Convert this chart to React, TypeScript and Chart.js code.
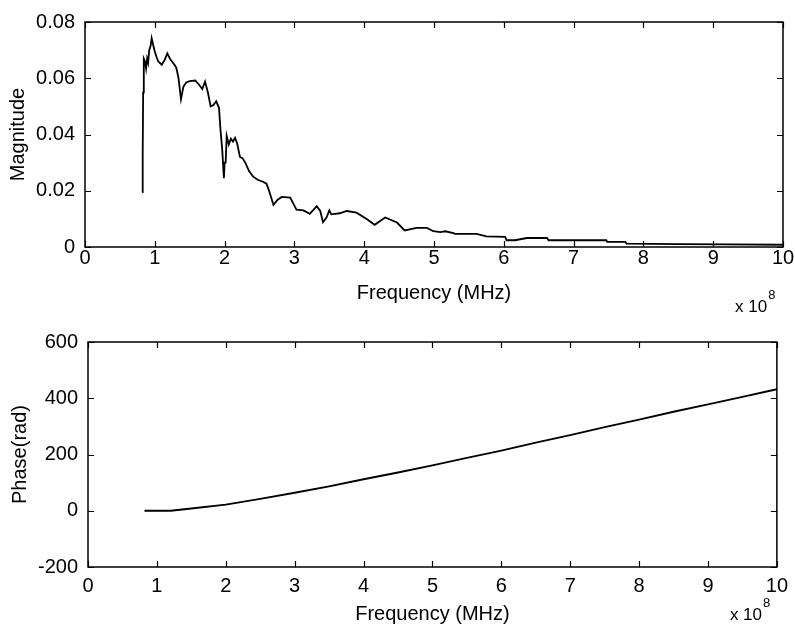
import React, { useEffect, useRef } from "react";
import { Chart, registerables } from "chart.js";

Chart.register(...registerables);

const FONT = "'Liberation Sans', Arial, sans-serif";

// Tick values
const freqTicks = [0, 1, 2, 3, 4, 5, 6, 7, 8, 9, 10];
const magTicks = [0, 0.02, 0.04, 0.06, 0.08];
const phaseTicks = [-200, 0, 200, 400, 600];

// Magnitude spectrum (frequency in units of 10^8)
const magFreq = [
  0.82, 0.823, 0.83, 0.833, 0.84, 0.845, 0.86, 0.875, 0.89, 0.905, 0.92, 0.94, 0.955, 0.975,
  1.0, 1.03, 1.05, 1.1, 1.14, 1.18, 1.22, 1.26, 1.29, 1.31, 1.34, 1.375, 1.41, 1.45, 1.5, 1.58,
  1.64, 1.68, 1.72, 1.76, 1.8, 1.84, 1.88, 1.92, 1.94, 1.965, 1.99, 2.0, 2.015, 2.03,
  2.06, 2.09, 2.12, 2.15, 2.18, 2.22, 2.26, 2.3, 2.35, 2.41, 2.48, 2.55, 2.6, 2.63,
  2.7, 2.76, 2.82, 2.94, 3.03, 3.13, 3.22, 3.32, 3.37, 3.41, 3.46, 3.5, 3.53, 3.65,
  3.75, 3.89, 4.04, 4.15, 4.3, 4.47, 4.58, 4.75, 4.9, 4.99, 5.09, 5.16, 5.28, 5.3,
  5.61, 5.75, 6.02, 6.04, 6.16, 6.33, 6.62, 6.64, 7.47, 7.48, 7.74, 7.76, 8.5, 9.2, 10.0,
];
const magValues = [
  0.0195, 0.032, 0.032, 0.055, 0.055, 0.067, 0.066, 0.0635, 0.067, 0.0655, 0.07, 0.0715, 0.0742, 0.072,
  0.0695, 0.0672, 0.066, 0.0648, 0.0665, 0.0688, 0.0668, 0.0655, 0.0645, 0.0635, 0.06, 0.0525, 0.057, 0.0585, 0.059, 0.0592,
  0.0575, 0.0562, 0.0588, 0.055, 0.05, 0.0505, 0.0518, 0.0495, 0.042, 0.035, 0.0245, 0.03, 0.03, 0.0395,
  0.0365, 0.0385, 0.0375, 0.0388, 0.0368, 0.032, 0.0315, 0.0298, 0.027, 0.025, 0.0238, 0.0232, 0.0225, 0.0205,
  0.015, 0.0168, 0.0178, 0.0176, 0.0133, 0.013, 0.0118, 0.0145, 0.0128, 0.0088, 0.0105, 0.013, 0.0116, 0.012,
  0.0128, 0.0122, 0.0099, 0.0079, 0.0105, 0.0087, 0.0059, 0.0068, 0.0068, 0.0056, 0.0053, 0.0056, 0.0049, 0.0047,
  0.0047, 0.0038, 0.0036, 0.0024, 0.0024, 0.0032, 0.0032, 0.0024, 0.0024, 0.0018, 0.0018, 0.0012, 0.001, 0.0009, 0.0008,
];

// Phase (rad)
const phaseFreq = [0.82, 1.0, 1.2, 1.5, 2.0, 2.5, 3.0, 3.5, 4.0, 4.5, 5.0, 5.5, 6.0, 6.5, 7.0, 7.5, 8.0, 8.5, 9.0, 9.5, 10.0];
const phaseValues = [0, 0, 0, 8, 22, 42, 64, 87, 112, 136, 161, 188, 214, 242, 269, 297, 324, 352, 378, 405, 432];

const framePlugin = {
  id: "frame",
  afterDraw(chart: any, _args: any, o: any) {
    const { ctx, chartArea: a } = chart;
    const sx = chart.scales.x;
    const sy = chart.scales.y;
    ctx.save();
    ctx.strokeStyle = "#000";
    ctx.lineWidth = 1.5;
    ctx.strokeRect(a.left, a.top, a.right - a.left, a.bottom - a.top);
    ctx.lineWidth = 1.2;
    ctx.beginPath();
    const L = 6;
    sx.ticks.forEach((t: any) => {
      const p = Math.round(sx.getPixelForValue(t.value)) + 0.5;
      ctx.moveTo(p, a.bottom);
      ctx.lineTo(p, a.bottom - L);
      ctx.moveTo(p, a.top);
      ctx.lineTo(p, a.top + L);
    });
    sy.ticks.forEach((t: any) => {
      const p = Math.round(sy.getPixelForValue(t.value)) + 0.5;
      ctx.moveTo(a.left, p);
      ctx.lineTo(a.left + L, p);
      ctx.moveTo(a.right, p);
      ctx.lineTo(a.right - L, p);
    });
    ctx.stroke();
    // exponent label
    ctx.fillStyle = "#000";
    ctx.textAlign = "left";
    ctx.textBaseline = "alphabetic";
    ctx.font = `17px ${FONT}`;
    const ex = a.right + o.dx;
    const ey = a.bottom + o.dy;
    ctx.fillText("x 10", ex, ey);
    const w = ctx.measureText("x 10").width;
    ctx.font = `13px ${FONT}`;
    ctx.fillText("8", ex + w + 1, ey - 13);
    ctx.restore();
  },
};

type Cfg = {
  xs: number[];
  ys: number[];
  yMin: number;
  yMax: number;
  yTicks: number[];
  yTitle: string;
  yFmt: (v: number) => string;
  yAxisWidth: number;
  xAxisHeight: number;
  padRight: number;
  xTickPad: number;
  xTitlePad: number;
  yTitlePad: number;
  yTickPad: number;
  expDx: number;
  expDy: number;
};

function makeChart(canvas: HTMLCanvasElement, c: Cfg) {
  return new Chart(canvas, {
    type: "line",
    data: {
      datasets: [
        {
          data: c.xs.map((x, i) => ({ x, y: c.ys[i] })),
          borderColor: "#000",
          borderWidth: 1.8,
          pointRadius: 0,
          tension: 0,
          fill: false,
        },
      ],
    },
    options: {
      animation: false,
      responsive: false,
      maintainAspectRatio: false,
      devicePixelRatio: 1,
      layout: { padding: { left: 0, top: 15, right: c.padRight, bottom: 0 }, autoPadding: false },
      plugins: {
        legend: { display: false },
        tooltip: { enabled: false },
        frame: { dx: c.expDx, dy: c.expDy },
      } as any,
      scales: {
        x: {
          type: "linear",
          min: 0,
          max: 10,
          grid: { display: false, drawTicks: false },
          border: { display: false },
          afterBuildTicks: (s: any) => {
            s.ticks = freqTicks.map((v) => ({ value: v }));
          },
          afterFit: (s: any) => {
            s.height = c.xAxisHeight;
          },
          ticks: {
            color: "#000",
            font: { family: FONT, size: 20, lineHeight: 1.2 },
            padding: c.xTickPad,
            maxRotation: 0,
            autoSkip: false,
            callback: (v: any) => String(v),
          },
          title: {
            display: true,
            text: "Frequency (MHz)",
            color: "#000",
            font: { family: FONT, size: 20, lineHeight: 1.2 },
            padding: { top: 0, bottom: c.xTitlePad },
          },
        },
        y: {
          type: "linear",
          min: c.yMin,
          max: c.yMax,
          grid: { display: false, drawTicks: false },
          border: { display: false },
          afterBuildTicks: (s: any) => {
            s.ticks = c.yTicks.map((v) => ({ value: v }));
          },
          afterFit: (s: any) => {
            s.width = c.yAxisWidth;
          },
          ticks: {
            color: "#000",
            font: { family: FONT, size: 20, lineHeight: 1.2 },
            padding: c.yTickPad,
            autoSkip: false,
            callback: (v: any) => c.yFmt(Number(v)),
          },
          title: {
            display: true,
            text: c.yTitle,
            color: "#000",
            font: { family: FONT, size: 20, lineHeight: 1.2 },
            padding: { top: c.yTitlePad, bottom: 0 },
          },
        },
      },
    } as any,
    plugins: [framePlugin],
  });
}

export default function App() {
  const topRef = useRef<HTMLCanvasElement>(null);
  const botRef = useRef<HTMLCanvasElement>(null);

  useEffect(() => {
    const c1 = makeChart(topRef.current!, {
      xs: magFreq,
      ys: magValues,
      yMin: 0,
      yMax: 0.08,
      yTicks: magTicks,
      yTitle: "Magnitude",
      yFmt: (v) => (v === 0 ? "0" : v.toFixed(2)),
      yAxisWidth: 85,
      xAxisHeight: 73,
      padRight: 12,
      xTickPad: -1,
      xTitlePad: 15,
      yTitlePad: 6,
      yTickPad: 10,
      expDx: -48,
      expDy: 65,
    });
    const c2 = makeChart(botRef.current!, {
      xs: phaseFreq,
      ys: phaseValues,
      yMin: -200,
      yMax: 600,
      yTicks: phaseTicks,
      yTitle: "Phase(rad)",
      yFmt: (v) => String(v),
      yAxisWidth: 88,
      xAxisHeight: 68,
      padRight: 10,
      xTickPad: 7,
      xTitlePad: 9,
      yTitlePad: 8,
      yTickPad: 10,
      expDx: -47,
      expDy: 53,
    });
    return () => {
      c1.destroy();
      c2.destroy();
    };
  }, []);

  return (
    <div style={{ position: "absolute", left: 0, top: 0, width: 795, height: 635, background: "#fff" }}>
      <canvas ref={topRef} width={795} height={320} style={{ position: "absolute", left: 0, top: 0, width: 795, height: 320 }} />
      <canvas ref={botRef} width={795} height={315} style={{ position: "absolute", left: 0, top: 320, width: 795, height: 315 }} />
    </div>
  );
}
